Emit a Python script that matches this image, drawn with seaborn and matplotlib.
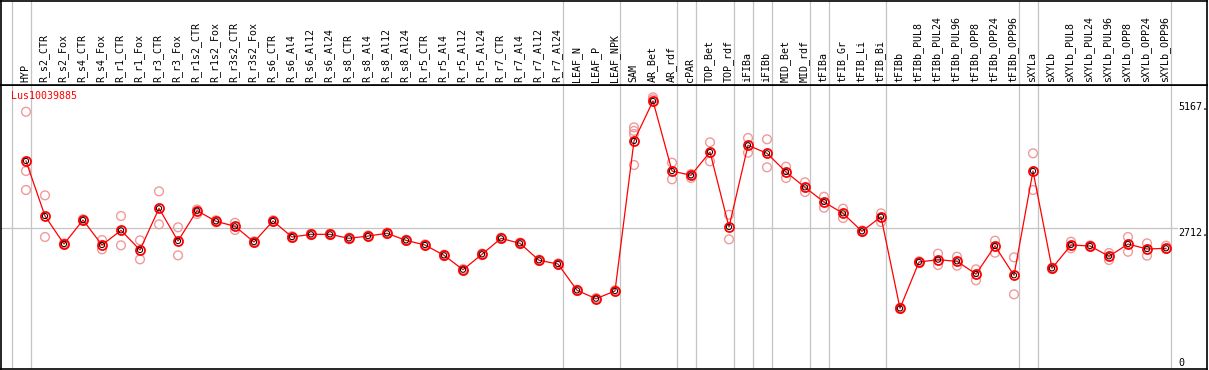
import pandas as pd
import matplotlib
matplotlib.use("Agg")
import matplotlib.pyplot as plt
import matplotlib.transforms as mtransforms
import seaborn as sns

gene = "Lus10039885"

samples = [
    "HYP", "R_s2_CTR", "R_s2_Fox", "R_s4_CTR", "R_s4_Fox", "R_r1_CTR", "R_r1_Fox",
    "R_r3_CTR", "R_r3_Fox", "R_r1s2_CTR", "R_r1s2_Fox", "R_r3s2_CTR", "R_r3s2_Fox",
    "R_s6_CTR", "R_s6_Al4", "R_s6_Al12", "R_s6_Al24", "R_s8_CTR", "R_s8_Al4",
    "R_s8_Al12", "R_s8_Al24", "R_r5_CTR", "R_r5_Al4", "R_r5_Al12", "R_r5_Al24",
    "R_r7_CTR", "R_r7_Al4", "R_r7_Al12", "R_r7_Al24", "LEAF_N", "LEAF_P", "LEAF_NPK",
    "SAM", "AR_Bet", "AR_rdf", "cPAR", "TOP_Bet", "TOP_rdf", "iFIBa", "iFIBb",
    "MID_Bet", "MID_rdf", "tFIBa", "tFIB_Gr", "tFIB_Li", "tFIB_Bi", "tFIBb",
    "tFIBb_PUL8", "tFIBb_PUL24", "tFIBb_PUL96", "tFIBb_OPP8", "tFIBb_OPP24",
    "tFIBb_OPP96", "sXYLa", "sXYLb", "sXYLb_PUL8", "sXYLb_PUL24", "sXYLb_PUL96",
    "sXYLb_OPP8", "sXYLb_OPP24", "sXYLb_OPP96",
]

means = [
    4024, 2952, 2406, 2874, 2387, 2673, 2290, 3102, 2465, 3056, 2849, 2751, 2445,
    2855, 2543, 2595, 2595, 2517, 2562, 2615, 2478, 2387, 2186, 1906, 2206,
    2517, 2420, 2089, 2017, 1504, 1341, 1491,
    4414, 5193, 3829, 3745, 4199, 2738, 4330, 4174, 3810, 3511, 3225, 3004, 2654,
    2938, 1153, 2056, 2101, 2069, 1822, 2368, 1797, 3829, 1933, 2387, 2368, 2167,
    2406, 2309, 2323,
]

replicates = [
    [4984, 3829, 3459], [3355, 2543], [2420, 2390], [2890, 2860], [2484, 2303],
    [2952, 2381], [2478, 2108], [3433, 2790], [2732, 2186], [3080, 2990],
    [2870, 2830], [2820, 2680], [2460, 2430], [2870, 2840], [2560, 2525],
    [2610, 2580], [2610, 2580], [2530, 2500], [2575, 2550], [2630, 2600],
    [2490, 2465], [2400, 2375], [2200, 2170], [1920, 1890], [2220, 2190],
    [2530, 2505], [2435, 2405], [2100, 2075], [2030, 2005], [1515, 1490],
    [1355, 1330], [1505, 1480], [4680, 4610, 4550, 3946], [5265, 5226],
    [3991, 3667], [3770, 3693], [4388, 4018], [2977, 2498], [4472, 4186],
    [4447, 3901], [3913, 3693], [3609, 3420], [3328, 3114], [3095, 2913],
    [2670, 2640], [3004, 2835], [1165, 1140], [2070, 2045], [2218, 1997],
    [2159, 1984], [1913, 1699], [2471, 2237], [2147, 1426], [4174, 3459],
    [1945, 1920], [2452, 2323], [2380, 2355], [2231, 2095], [2543, 2256],
    [2420, 2179], [2373, 2309],
]

# sample groups end after these indices (-1 marks the leading line)
group_ends = [-1, 0, 28, 31, 34, 35, 37, 38, 39, 41, 42, 45, 52, 53, 60]

ytick_vals = [5167, 2712, 0]
ytick_text = ["5167.", "2712.", "0"]

mean_df = pd.DataFrame({"pos": range(len(samples)), "value": means})
rep_df = pd.DataFrame(
    [(i, v) for i, reps in enumerate(replicates) for v in reps],
    columns=["pos", "value"],
)

W, H = 1209, 370
fig = plt.figure(figsize=(W / 100, H / 100), dpi=100)
mono = "DejaVu Sans Mono"
fs = 7.2
grey = "#c4c4c4"

x_lo = (0.5 - 26) / 19
x_hi = (1207 - 26) / 19

ax = fig.add_axes([0.5 / W, 1 / H, 1206.5 / W, 284 / H])
head = fig.add_axes([0.5 / W, 285 / H, 1206.5 / W, 84.5 / H], sharex=ax)

for a in (ax, head):
    for g in group_ends:
        a.axvline(g + 0.237, color=grey, lw=0.9, zorder=0)
    for s in a.spines.values():
        s.set_color("black")
        s.set_linewidth(1.2)
    a.set_xticks([])
    a.set_yticks([])
    a.set_xlabel("")
    a.set_ylabel("")

ax.set_xlim(x_lo, x_hi)
ax.set_ylim(-29, 5505)
head.set_ylim(0, 1)

ax.axhline(ytick_vals[1], xmax=(1177 - 0.5) / 1206.5, color=grey, lw=0.9, zorder=0)

sns.scatterplot(data=rep_df, x="pos", y="value", ax=ax, marker="o", s=40,
                facecolor="none", edgecolor="#f09a9a", linewidth=1.0, zorder=2,
                legend=False)
sns.lineplot(data=mean_df, x="pos", y="value", ax=ax, color="red", lw=0.9,
             marker="o", markersize=6.5, markerfacecolor="none",
             markeredgecolor="red", markeredgewidth=1.3, zorder=3)
sns.scatterplot(data=mean_df, x="pos", y="value", ax=ax, marker="o", s=14,
                facecolor="none", edgecolor="black", linewidth=0.7, zorder=4,
                legend=False)
ax.set_xlabel("")
ax.set_ylabel("")
ax.set_xticks([])
ax.set_yticks([])

trans = mtransforms.blended_transform_factory(ax.transAxes, ax.transData)
for v, t in zip(ytick_vals, ytick_text):
    ax.text((1178 - 0.5) / 1206.5, v, t, transform=trans, fontsize=fs,
            family=mono, ha="left", va="bottom" if v == 0 else "top")

ax.text(10 / 1206.5, 1 - 6 / 284, gene, transform=ax.transAxes, color="red",
        fontsize=fs, family=mono, ha="left", va="top")

for i, name in enumerate(samples):
    head.text(i - 0.05, 0.03, name, rotation=90, fontsize=fs, family=mono,
              ha="center", va="bottom")

fig.savefig("out.png", dpi=100)
